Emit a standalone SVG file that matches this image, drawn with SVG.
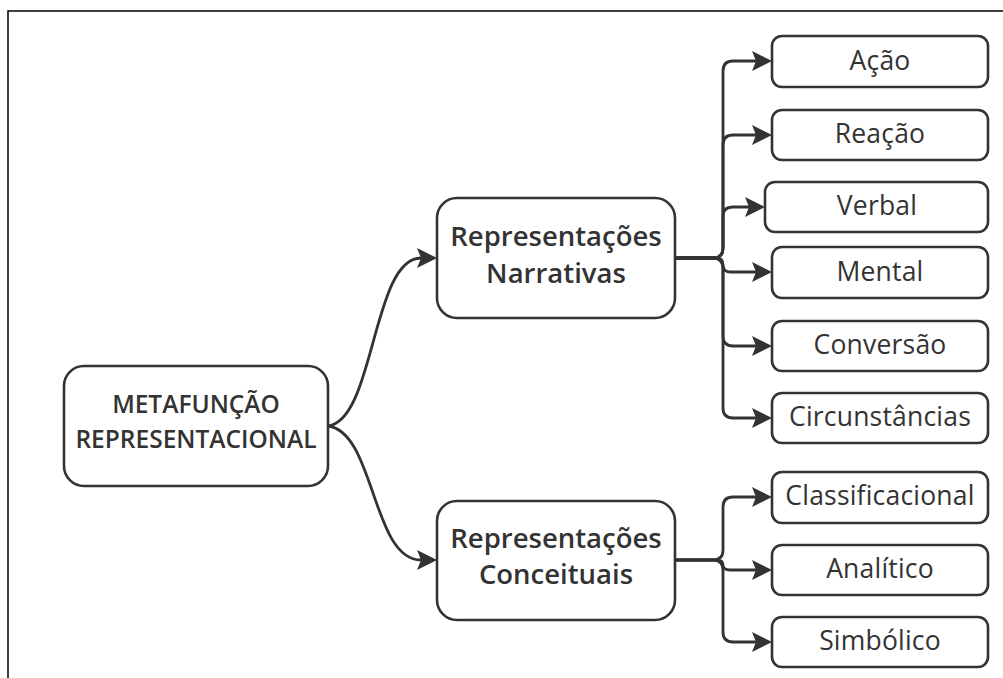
<svg xmlns="http://www.w3.org/2000/svg" width="1003" height="678" viewBox="0 0 1003 678">
  <style>
    .frame { stroke: #000; stroke-width: 1.5; fill: none; }
    .box { fill: #fff; stroke: #333; stroke-width: 2.6; }
    .link { fill: none; stroke: #333; stroke-width: 2.8; }
    .head { font-family: "Open Sans", "Noto Sans", sans-serif; font-weight: 600; fill: #333; text-anchor: middle; }
    .leaf { font-family: "Open Sans", "Noto Sans", sans-serif; font-size: 26.5px; letter-spacing: 0.2px; fill: #333; text-anchor: middle; }
  </style>
  <defs>
    <marker id="arrow" viewBox="0 0 20 20" markerWidth="20" markerHeight="20" refX="4" refY="10" orient="auto" markerUnits="userSpaceOnUse">
      <path d="M0,0 L20,10 L0,20 L4,10 Z" fill="#333"/>
    </marker>
  </defs>
  <rect width="1003" height="678" fill="#fff"/>
  <path class="frame" d="M8,678 V11 H1003"/>

  <g id="connectors">
    <path class="link" marker-end="url(#arrow)" d="M328,426 C375,420 372,258 421,258"/>
    <path class="link" marker-end="url(#arrow)" d="M328,426 C375,432 372,560 421,560"/>
    <path class="link" marker-end="url(#arrow)" d="M675,258 H713 Q723,258 723,248 V71 Q723,61 733,61 H756"/>
    <path class="link" marker-end="url(#arrow)" d="M675,258 H713 Q723,258 723,248 V145 Q723,135 733,135 H756"/>
    <path class="link" marker-end="url(#arrow)" d="M675,258 H713 Q723,258 723,248 V216 Q723,207 733,207 H749"/>
    <path class="link" marker-end="url(#arrow)" d="M675,258 H716 Q723,258 723,265 Q723,272 730,272 H756"/>
    <path class="link" marker-end="url(#arrow)" d="M675,258 H713 Q723,258 723,268 V336 Q723,346 733,346 H756"/>
    <path class="link" marker-end="url(#arrow)" d="M675,258 H713 Q723,258 723,268 V408 Q723,418 733,418 H756"/>
    <path class="link" marker-end="url(#arrow)" d="M675,560 H713 Q723,560 723,550 V507 Q723,497 733,497 H756"/>
    <path class="link" marker-end="url(#arrow)" d="M675,560 H716 Q723,560 723,565 Q723,570 730,570 H756"/>
    <path class="link" marker-end="url(#arrow)" d="M675,560 H713 Q723,560 723,570 V632 Q723,642 733,642 H756"/>
  </g>

  <g id="root">
    <rect class="box" x="64" y="366" width="264" height="120" rx="20"/>
    <text class="head" font-size="24.5" x="196" y="413">METAFUNÇÃO</text>
    <text class="head" font-size="24.5" x="196" y="448">REPRESENTACIONAL</text>
  </g>
  <g id="narrativas">
    <rect class="box" x="437" y="198" width="238" height="120" rx="20"/>
    <text class="head" font-size="27.5" x="556" y="246">Representações</text>
    <text class="head" font-size="27.5" x="556" y="283">Narrativas</text>
  </g>
  <g id="conceituais">
    <rect class="box" x="437" y="501" width="238" height="119" rx="20"/>
    <text class="head" font-size="27.5" x="556" y="548">Representações</text>
    <text class="head" font-size="27.5" x="556" y="584">Conceituais</text>
  </g>

  <g id="acao">
    <rect class="box" x="772" y="36" width="216" height="51" rx="10"/>
    <text class="leaf" x="880" y="70">Ação</text>
  </g>
  <g id="reacao">
    <rect class="box" x="772" y="110" width="216" height="50" rx="10"/>
    <text class="leaf" x="880" y="143">Reação</text>
  </g>
  <g id="verbal">
    <rect class="box" x="765" y="182" width="223" height="50" rx="10"/>
    <text class="leaf" x="877" y="215">Verbal</text>
  </g>
  <g id="mental">
    <rect class="box" x="772" y="247" width="216" height="51" rx="10"/>
    <text class="leaf" x="880" y="281">Mental</text>
  </g>
  <g id="conversao">
    <rect class="box" x="772" y="321" width="216" height="50" rx="10"/>
    <text class="leaf" x="880" y="354">Conversão</text>
  </g>
  <g id="circunstancias">
    <rect class="box" x="772" y="393" width="216" height="50" rx="10"/>
    <text class="leaf" x="880" y="426">Circunstâncias</text>
  </g>
  <g id="classificacional">
    <rect class="box" x="772" y="472" width="216" height="51" rx="10"/>
    <text class="leaf" x="880" y="505">Classificacional</text>
  </g>
  <g id="analitico">
    <rect class="box" x="772" y="545" width="216" height="50" rx="10"/>
    <text class="leaf" x="880" y="578">Analítico</text>
  </g>
  <g id="simbolico">
    <rect class="box" x="772" y="617" width="216" height="50" rx="10"/>
    <text class="leaf" x="880" y="650">Simbólico</text>
  </g>
</svg>
